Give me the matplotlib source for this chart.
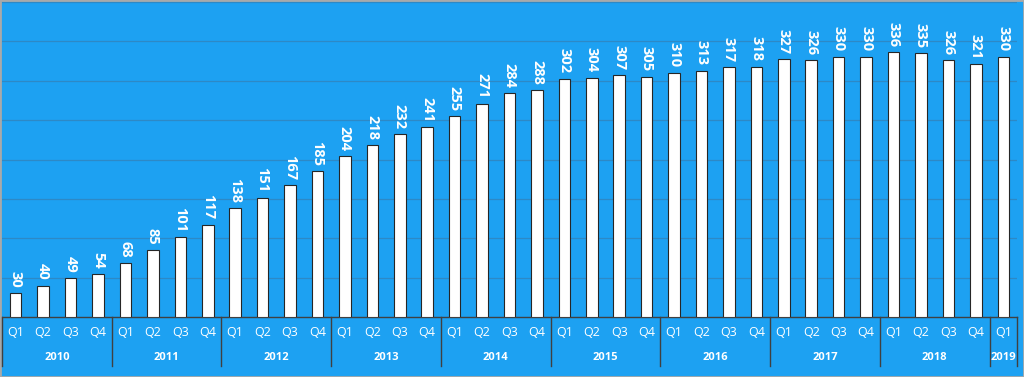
import matplotlib
matplotlib.use("Agg")
import matplotlib.pyplot as plt
import matplotlib.transforms as mtransforms
import numpy as np

years = ["2010", "2011", "2012", "2013", "2014", "2015", "2016", "2017", "2018", "2019"]
quarters_per_year = [4, 4, 4, 4, 4, 4, 4, 4, 4, 1]
values = [30, 40, 49, 54, 68, 85, 101, 117, 138, 151, 167, 185, 204, 218, 232, 241,
          255, 271, 284, 288, 302, 304, 307, 305, 310, 313, 317, 318, 327, 326, 330, 330,
          336, 335, 326, 321, 330]

quarter_labels = []
for n in quarters_per_year:
    quarter_labels += ["Q%d" % (i + 1) for i in range(n)]

BG = "#1DA1F2"
plt.rcParams['font.family'] = ['Open Sans', 'DejaVu Sans']

W, H = 1024, 377
fig = plt.figure(figsize=(W / 100, H / 100), dpi=100, facecolor=BG)
ax = fig.add_axes([2 / W, (H - 317) / H, 1015 / W, 315 / H])
ax.set_facecolor(BG)

x = np.arange(len(values))
ax.bar(x, values, width=0.42, color="white", edgecolor="#262626", linewidth=0.8, zorder=3)
ax.set_xlim(-0.5, len(values) - 0.5)
ax.set_ylim(0, 400)
ax.set_yticks(np.arange(50, 401, 50))
ax.yaxis.grid(True, color="#2D89C6", linewidth=0.9)
ax.set_axisbelow(True)
ax.tick_params(left=False, labelleft=False, bottom=False, labelbottom=False)
for s in ["top", "right", "left"]:
    ax.spines[s].set_visible(False)
ax.spines["bottom"].set_color("#404040")
ax.spines["bottom"].set_linewidth(1.0)

for xi, v in zip(x, values):
    ax.annotate(str(v), (xi, v), xytext=(0, 4), textcoords="offset points",
                rotation=270, ha="center", va="bottom", color="white",
                fontsize=10.5, fontweight="bold", zorder=4)

trans = mtransforms.blended_transform_factory(ax.transData, fig.transFigure)
def fy(py):
    return (H - py) / H

for xi, q in zip(x, quarter_labels):
    fig.text(xi, fy(333), q, transform=trans, ha="center", va="center",
             color="white", fontsize=9)

start = 0
bounds = [-0.5]
for yr, n in zip(years, quarters_per_year):
    center = start + (n - 1) / 2
    fig.text(center, fy(358), yr, transform=trans, ha="center", va="center",
             color="white", fontsize=8, fontweight="bold")
    start += n
    bounds.append(start - 0.5)

for b in bounds:
    fig.add_artist(plt.Line2D([b, b], [fy(317), fy(366)], transform=trans,
                              color="#404040", linewidth=1.0))

fig.add_artist(plt.Rectangle((0, 0), 1, 1, transform=fig.transFigure, fill=False,
                             edgecolor="#A9A9A9", linewidth=2))

fig.savefig("out.png", dpi=100, facecolor=BG)
